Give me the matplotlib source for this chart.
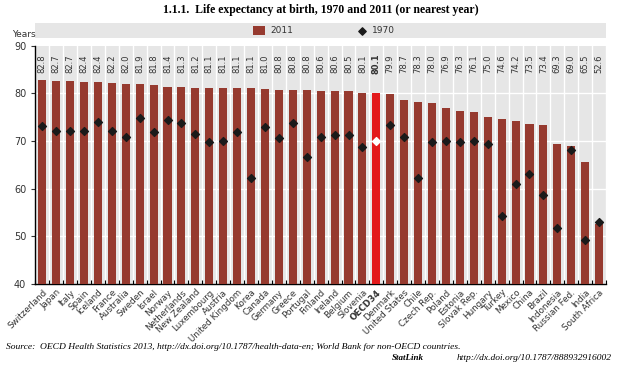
import matplotlib
matplotlib.use("Agg")
import matplotlib.pyplot as plt
import numpy as np

countries = ["Switzerland", "Japan", "Italy", "Spain", "Iceland", "France",
             "Australia", "Sweden", "Israel", "Norway", "Netherlands",
             "New Zealand", "Luxembourg", "Austria", "United Kingdom", "Korea",
             "Canada", "Germany", "Greece", "Portugal", "Finland", "Ireland",
             "Belgium", "Slovenia", "OECD34", "Denmark", "United States",
             "Chile", "Czech Rep.", "Poland", "Estonia", "Slovak Rep.",
             "Hungary", "Turkey", "Mexico", "China", "Brazil", "Indonesia",
             "Russian Fed.", "India", "South Africa"]
le_2011 = [82.8, 82.7, 82.7, 82.4, 82.4, 82.2, 82.0, 81.9, 81.8, 81.4, 81.3,
           81.2, 81.1, 81.1, 81.1, 81.1, 81.0, 80.8, 80.8, 80.8, 80.6, 80.6,
           80.5, 80.1, 80.1, 79.9, 78.7, 78.3, 78.0, 76.9, 76.3, 76.1, 75.0,
           74.6, 74.2, 73.5, 73.4, 69.3, 69.0, 65.5, 52.6]
le_1970 = [73.1, 72.0, 72.0, 72.0, 74.0, 72.2, 70.8, 74.8, 71.8, 74.4, 73.7,
           71.5, 69.7, 69.9, 71.9, 62.2, 72.9, 70.6, 73.8, 66.7, 70.8, 71.3,
           71.2, 68.7, 70.0, 73.3, 70.9, 62.2, 69.7, 70.0, 69.7, 69.9, 69.3,
           54.2, 60.9, 63.0, 58.6, 51.8, 68.2, 49.1, 53.0]
highlight = "OECD34"

BAR = "#963a2f"
RED = "#e3191b"
BG = "#e6e6e6"

fig = plt.figure(figsize=(6.3, 3.67), dpi=100)
ax = fig.add_axes([0.056, 0.227, 0.906, 0.648])
ax.set_facecolor(BG)

x = np.arange(len(countries))
colors = [RED if c == highlight else BAR for c in countries]
ax.bar(x, le_2011, width=0.58, color=colors, zorder=3)

for i, c in enumerate(countries):
    if c == highlight:
        ax.scatter(i, le_1970[i], marker="D", s=16, color="white",
                   edgecolors="white", zorder=4)
    else:
        ax.scatter(i, le_1970[i], marker="D", s=16, color="#1a1a1a", zorder=4)
    ax.text(i, 86.3, f"{le_2011[i]:.1f}", rotation=90, ha="center",
            va="center", fontsize=6, color="#333333",
            fontweight="bold" if c == highlight else "normal",
            family=["Liberation Sans Narrow", "DejaVu Sans"])

# white separators and gridlines
for b in np.arange(-0.5, len(countries), 1.0):
    ax.axvline(b, color="white", lw=1.0, zorder=1)
for g in [50, 60, 70, 80]:
    ax.axhline(g, color="white", lw=1.0, zorder=2)

ax.set_xlim(-0.5, len(countries) - 0.5)
ax.set_ylim(40, 90)
ax.set_yticks([40, 50, 60, 70, 80, 90])
ax.tick_params(axis="y", labelsize=7, colors="#333333", length=3, width=0.8)
ax.set_xticks(x)
ax.set_xticklabels(countries, rotation=45, ha="right", rotation_mode="anchor",
                   fontsize=6.3, color="#333333",
                   family=["Liberation Sans Narrow", "DejaVu Sans"])
ax.tick_params(axis="x", length=0, pad=3)
for lbl in ax.get_xticklabels():
    if lbl.get_text() == highlight:
        lbl.set_fontweight("bold")
ax.set_xticks(np.arange(-0.5, len(countries), 1.0), minor=True)
ax.tick_params(axis="x", which="minor", direction="in", length=3, width=0.8)

for s in ["top", "right"]:
    ax.spines[s].set_visible(False)
ax.spines["left"].set_linewidth(1.0)
ax.spines["bottom"].set_linewidth(1.0)

fig.text(0.019, 0.907, "Years", fontsize=6.5, color="#333333", va="center")

# legend band
lax = fig.add_axes([0.056, 0.896, 0.906, 0.041])
lax.set_facecolor(BG)
lax.set_xlim(0, 1)
lax.set_ylim(0, 1)
lax.set_xticks([])
lax.set_yticks([])
for s in lax.spines.values():
    s.set_visible(False)
lax.bar([0.392], [0.64], bottom=0.18, width=0.022, color=BAR)
lax.text(0.412, 0.5, "2011", fontsize=6.5, va="center", color="#333333")
lax.scatter([0.572], [0.5], marker="D", s=14, color="#1a1a1a")
lax.text(0.59, 0.5, "1970", fontsize=6.5, va="center", color="#333333")

fig.text(0.51, 0.972, "1.1.1.  Life expectancy at birth, 1970 and 2011 (or nearest year)",
         ha="center", va="center", fontsize=8.5, fontweight="bold",
         family="Liberation Serif")

fig.text(0.01, 0.055,
         "Source:  OECD Health Statistics 2013, http://dx.doi.org/10.1787/health-data-en; "
         "World Bank for non-OECD countries.",
         fontsize=6.8, style="italic", family="Liberation Serif", va="center")
fig.text(0.971, 0.025, "http://dx.doi.org/10.1787/888932916002", ha="right",
         fontsize=6.8, style="italic", family="Liberation Serif", va="center")
fig.text(0.672, 0.025, "StatLink", ha="right", fontsize=6.5, style="italic",
         fontweight="bold", family="Liberation Serif", va="center")

fig.savefig("out.png", dpi=100)
